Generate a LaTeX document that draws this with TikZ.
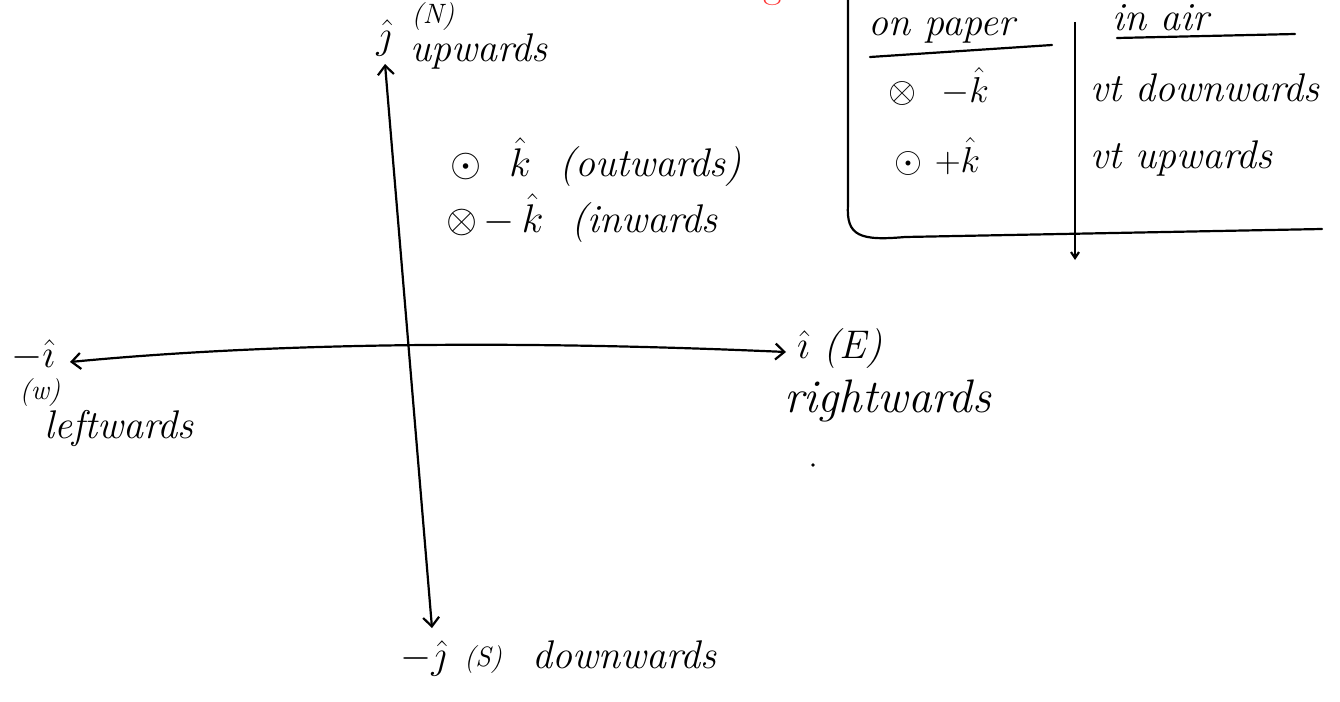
\RequirePackage{fix-cm}
\documentclass[tikz,border=0pt]{standalone}
\usepackage{xcolor}
\usepackage{tikz}
\usetikzlibrary{arrows.meta, positioning}

\begin{document}
\begin{tikzpicture}[
  x=1pt, y=-1pt,
  hand/.style={font=\fontsize{40}{44}\selectfont\itshape, inner sep=0pt},
  cell/.style={font=\fontsize{36}{40}\selectfont\itshape, inner sep=0pt},
  small/.style={font=\fontsize{28}{32}\selectfont\itshape, inner sep=0pt},
  arr/.style={line width=2.2pt,
              {Straight Barb[length=9pt,width=16pt]}-{Straight Barb[length=9pt,width=16pt]}},
  rule/.style={line width=2.2pt, line cap=round},
  divarr/.style={line width=2.2pt, -{Straight Barb[length=6pt,width=8pt]}}
]
\useasboundingbox (0,0) rectangle (1340,701);
\clip (0,0) rectangle (1340,701);

% Axis end points
\coordinate (ntip) at (385,64);
\coordinate (stip) at (432,628);
\coordinate (wtip) at (70,362);
\coordinate (etip) at (786,352);

% Axes
\draw[arr] (stip) -- (ntip);
\draw[arr] (wtip) .. controls (300,340) and (560,342) .. (etip);

% Axis labels
\node[hand]                   (jhat)  at (384,38)  {$\hat{\jmath}$};
\node[small]                  (north) at (433,17)  {(N)};
\node[hand, anchor=base west] (up)    at (410,61)  {upwards};

\node[hand]                   (mihat) at (33,355)  {$-\hat{\imath}$};
\node[small]                  (west)  at (40,393)  {(w)};
\node[hand, anchor=base west] (left)  at (44,438)  {leftwards};

\node[hand, anchor=base west] (ihat)  at (797,358) {$\hat{\imath}$ (E)};
\node[hand, anchor=base west, font=\fontsize{47}{50}\selectfont\itshape]
                              (right) at (784,412) {rightwards};
\fill (813,465) circle (1.8pt);

\node[hand, anchor=base west] (mjhat) at (400,668) {$-\hat{\jmath}$};
\node[small, anchor=base west] (south) at (464,666) {(S)};
\node[hand, anchor=base west] (down)  at (532,668) {downwards};

% Legend for k
\node[hand, anchor=base west] (outk)  at (450,176) {$\odot$\ \ $\hat{k}$ \ (outwards)};
\node[hand, anchor=base west] (ink)   at (446,232) {$\otimes\,{-}\,\hat{k}$ \ (inwards};

% Table
\node[hand, anchor=base west] (paper) at (868,36)  {on paper};
\node[hand, anchor=base west] (air)   at (1112,31) {in air};
\draw[rule] (870,57) -- (1052,45);
\draw[rule] (1117,38) -- (1295,34);

\node[cell, anchor=base west] (rowonea) at (888,102) {$\otimes$\ \ $-\hat{k}$};
\node[hand, anchor=base west] (rowoneb) at (1090,101) {vt downwards};
\node[cell, anchor=base west] (rowtwoa) at (894,172) {$\odot$\ $+\hat{k}$};
\node[hand, anchor=base west] (rowtwob) at (1090,168) {vt upwards};

\draw[rule] (848,-5) -- (848,205) .. controls (846,236) and (860,241) .. (905,237) -- (1322,229);
\draw[divarr] (1075,22) -- (1075,260);

% Clipped red heading
\node[font=\fontsize{40}{44}\selectfont, text=red!80, anchor=base] (head) at (773,-2) {g};

\end{tikzpicture}
\end{document}
